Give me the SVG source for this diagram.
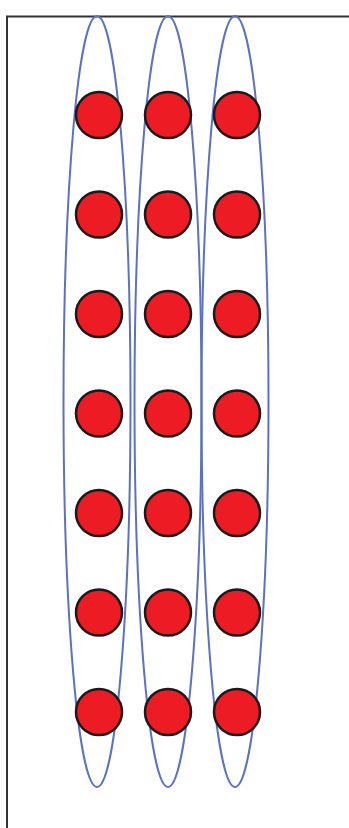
<svg xmlns="http://www.w3.org/2000/svg" width="349" height="828" viewBox="0 0 349 828">
<style>
.frame{fill:none;stroke:#333;stroke-width:2}
.grp{fill:none;stroke:#5b72c2;stroke-width:2}
.dot{fill:#ed1c24;stroke:#1a1a1a;stroke-width:2.5}
</style>
<rect width="349" height="828" fill="#fff"/>
<path class="frame" d="M7,829 V16.5 H350"/>
<g id="groups">
<ellipse id="group1" class="grp" cx="97" cy="401.5" rx="33.5" ry="385.5"/>
<ellipse id="group2" class="grp" cx="168" cy="401.5" rx="33.5" ry="385.5"/>
<ellipse id="group3" class="grp" cx="235" cy="401.5" rx="33.5" ry="385.5"/>
</g>
<g id="dots">
<g id="col1">
<circle class="dot" cx="99" cy="115" r="23"/>
<circle class="dot" cx="99" cy="214.5" r="23"/>
<circle class="dot" cx="99" cy="314" r="23"/>
<circle class="dot" cx="99" cy="413.5" r="23"/>
<circle class="dot" cx="99" cy="513" r="23"/>
<circle class="dot" cx="99" cy="612.5" r="23"/>
<circle class="dot" cx="99" cy="712" r="23"/>
</g>
<g id="col2">
<circle class="dot" cx="168" cy="115" r="23"/>
<circle class="dot" cx="168" cy="214.5" r="23"/>
<circle class="dot" cx="168" cy="314" r="23"/>
<circle class="dot" cx="168" cy="413.5" r="23"/>
<circle class="dot" cx="168" cy="513" r="23"/>
<circle class="dot" cx="168" cy="612.5" r="23"/>
<circle class="dot" cx="168" cy="712" r="23"/>
</g>
<g id="col3">
<circle class="dot" cx="237" cy="115" r="23"/>
<circle class="dot" cx="237" cy="214.5" r="23"/>
<circle class="dot" cx="237" cy="314" r="23"/>
<circle class="dot" cx="237" cy="413.5" r="23"/>
<circle class="dot" cx="237" cy="513" r="23"/>
<circle class="dot" cx="237" cy="612.5" r="23"/>
<circle class="dot" cx="237" cy="712" r="23"/>
</g>
</g>
</svg>
